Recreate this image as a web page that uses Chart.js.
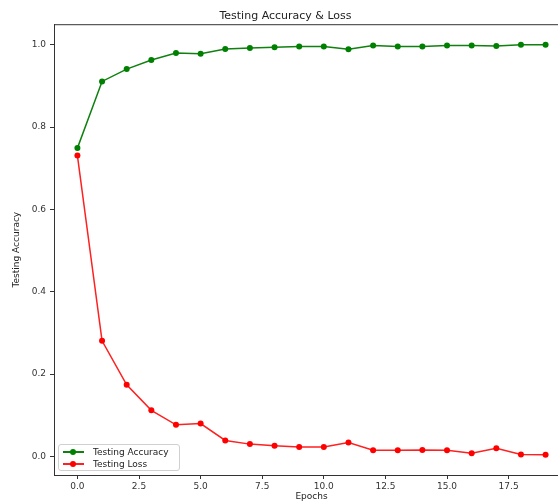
<!DOCTYPE html>
<html>
<head>
<meta charset="utf-8">
<script src="https://cdn.jsdelivr.net/npm/chart.js@4.4.0/dist/chart.umd.min.js"></script>
<style>
  html, body { margin: 0; padding: 0; background: #fff; overflow: hidden; }
  #wrap { position: relative; width: 572px; height: 502px; }
  #legend {
    position: absolute; left: 58px; top: 444px; width: 122px; height: 27px;
    border: 1px solid #d0d0d0; border-radius: 3px; background: rgba(255,255,255,0.85);
    font: 9px "DejaVu Sans", sans-serif; color: #222; box-sizing: border-box;
  }
  .row { position: absolute; left: 3px; height: 12px; line-height: 12px; white-space: nowrap; }
  .sw { position: absolute; left: 1px; top: 5px; width: 21px; height: 2px; }
  .sw i { position: absolute; left: 7px; top: -2px; width: 6px; height: 6px; border-radius: 50%; }
  .row span { position: absolute; left: 31px; }
</style>
</head>
<body>
<div id="wrap">
  <canvas id="chart" width="572" height="502"></canvas>
  <div id="legend">
    <div class="row" style="top:1px"><div class="sw" style="background:#108010"><i style="background:#008000"></i></div><span>Testing Accuracy</span></div>
    <div class="row" style="top:13px"><div class="sw" style="background:#ff2020"><i style="background:#ff0000"></i></div><span>Testing Loss</span></div>
  </div>
</div>
<script>
const epochs = [0, 1, 2, 3, 4, 5, 6, 7, 8, 9, 10, 11, 12, 13, 14, 15, 16, 17, 18, 19];
const accuracy = [0.749, 0.911, 0.941, 0.963, 0.980, 0.978, 0.990, 0.992, 0.994, 0.996, 0.996, 0.989, 0.998, 0.996, 0.996, 0.998, 0.998, 0.997, 1.0, 1.0];
const loss = [0.731, 0.281, 0.174, 0.112, 0.077, 0.080, 0.039, 0.030, 0.026, 0.023, 0.023, 0.034, 0.015, 0.015, 0.016, 0.015, 0.008, 0.020, 0.005, 0.004];
const xTicks = [0, 2.5, 5, 7.5, 10, 12.5, 15, 17.5];
const yTicks = [0, 0.2, 0.4, 0.6, 0.8, 1.0];

const pts = vals => vals.map((v, i) => ({x: epochs[i], y: v}));

const frame = {
    id: 'frame',
    afterDraw(chart) {
        const a = chart.chartArea, ctx = chart.ctx;
        ctx.save();
        ctx.strokeStyle = '#333';
        ctx.lineWidth = 1;
        ctx.strokeRect(a.left + 0.5, a.top + 0.5, a.right - a.left, a.bottom - a.top);
        ctx.restore();
    }
};

const tickFont = {family: 'DejaVu Sans', size: 9};

new Chart(document.getElementById('chart'), {
    type: 'line',
    data: {
        datasets: [
            {label: 'Testing Accuracy', data: pts(accuracy), borderColor: '#108010', backgroundColor: '#008000',
             borderWidth: 1.5, pointRadius: 3, pointBorderWidth: 0, pointHoverRadius: 3, tension: 0},
            {label: 'Testing Loss', data: pts(loss), borderColor: '#ff2020', backgroundColor: '#ff0000',
             borderWidth: 1.5, pointRadius: 3, pointBorderWidth: 0, pointHoverRadius: 3, tension: 0}
        ]
    },
    options: {
        responsive: false,
        animation: false,
        layout: {padding: {left: 0, right: 1, top: 0, bottom: 0}},
        plugins: {
            legend: {display: false},
            tooltip: {enabled: false},
            title: {display: true, text: 'Testing Accuracy & Loss', color: '#222',
                    font: {family: 'DejaVu Sans', size: 11, weight: 'normal'}, padding: {top: 10, bottom: 1}}
        },
        scales: {
            x: {
                type: 'linear', min: -0.95, max: 19.95,
                afterBuildTicks: s => { s.ticks = xTicks.map(v => ({value: v})); },
                afterFit: s => { s.height = 27; },
                ticks: {font: tickFont, color: '#333', padding: 2, maxRotation: 0, callback: v => v.toFixed(1)},
                grid: {drawOnChartArea: false, drawTicks: true, tickLength: 4, color: '#333'},
                border: {display: true, color: '#333'},
                title: {display: true, text: 'Epochs', color: '#222', font: tickFont, padding: {top: 0, bottom: 0}}
            },
            y: {
                type: 'linear', min: -0.045, max: 1.05,
                afterBuildTicks: s => { s.ticks = yTicks.map(v => ({value: v})); },
                afterFit: s => { s.width = 54; },
                ticks: {font: tickFont, color: '#333', padding: 4, callback: v => v.toFixed(1)},
                grid: {drawOnChartArea: false, drawTicks: true, tickLength: 4, color: '#333'},
                border: {display: true, color: '#333'},
                title: {display: true, text: 'Testing Accuracy', color: '#222', font: tickFont, padding: {top: 11, bottom: 0}}
            }
        }
    },
    plugins: [frame]
});
</script>
</body>
</html>
